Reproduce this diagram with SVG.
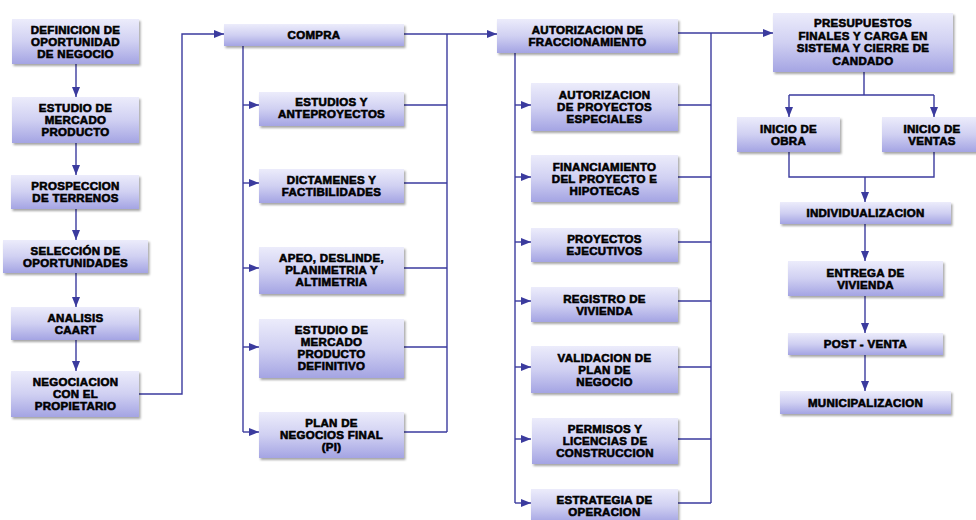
<svg xmlns="http://www.w3.org/2000/svg" width="976" height="520" viewBox="0 0 976 520">
<defs>
<linearGradient id="g" x1="0" y1="0" x2="0" y2="1">
<stop offset="0" stop-color="#ececfb"/>
<stop offset="0.5" stop-color="#d0d0f2"/>
<stop offset="1" stop-color="#a4a4e3"/>
</linearGradient>
<filter id="sh" x="-10%" y="-10%" width="130%" height="140%">
<feDropShadow dx="1.5" dy="2" stdDeviation="1.3" flood-color="#000" flood-opacity="0.35"/>
</filter>
<marker id="ar" markerUnits="userSpaceOnUse" markerWidth="10" markerHeight="10" viewBox="0 0 10 10" refX="10" refY="5" orient="auto">
<path d="M0,1 L10,5 L0,9 Z" fill="#3b3b9e"/>
</marker>
<style>
.b{fill:url(#g);filter:url(#sh)}
.t{font-family:"Liberation Sans",Arial,sans-serif;font-weight:bold;font-size:11.5px;letter-spacing:0.3px;fill:#000;stroke:#000;stroke-width:0.6;text-anchor:middle}
.c{fill:none;stroke:#3b3b9e;stroke-width:1.4}
.a{marker-end:url(#ar)}
</style>
</defs>
<rect width="976" height="520" fill="#fff"/>

<g id="connectors">
<path class="c a" d="M76,64 V97"/>
<path class="c a" d="M76,143 V175"/>
<path class="c a" d="M76,209 V240"/>
<path class="c a" d="M76,273 V307"/>
<path class="c a" d="M76,340 V371"/>
<path class="c a" d="M139,394 H182 V34 H224"/>
<path class="c" d="M243,46 V432"/>
<path class="c a" d="M243,105 H259"/>
<path class="c a" d="M243,183 H259"/>
<path class="c a" d="M243,268 H259"/>
<path class="c a" d="M243,347 H259"/>
<path class="c a" d="M243,432 H259"/>
<path class="c" d="M447,34 V432"/>
<path class="c" d="M404,105 H447 M404,183 H447 M404,268 H447 M404,347 H447 M404,432 H447"/>
<path class="c a" d="M404,34 H497"/>
<path class="c" d="M515,53 V503"/>
<path class="c a" d="M515,105 H531"/>
<path class="c a" d="M515,177 H531"/>
<path class="c a" d="M515,242 H531"/>
<path class="c a" d="M515,301 H531"/>
<path class="c a" d="M515,367 H531"/>
<path class="c a" d="M515,439 H531"/>
<path class="c a" d="M515,503 H531"/>
<path class="c" d="M711,33 V503"/>
<path class="c" d="M678,105 H711 M678,177 H711 M678,242 H711 M678,301 H711 M678,367 H711 M678,439 H711 M678,503 H711"/>
<path class="c a" d="M678,33 H773"/>
<path class="c" d="M864,72 V95 M789,95 H934"/>
<path class="c a" d="M789,95 V117"/>
<path class="c a" d="M934,95 V117"/>
<path class="c" d="M789,152 V177 H934 V152"/>
<path class="c a" d="M865,177 V202"/>
<path class="c a" d="M865,224 V261"/>
<path class="c a" d="M865,296 V333"/>
<path class="c a" d="M865,355 V391"/>
</g>

<g id="n1"><rect class="b" x="12" y="19" width="127" height="45"/><text class="t"><tspan x="75.5" y="33.5">DEFINICION DE</tspan><tspan x="75.5" y="45.5">OPORTUNIDAD</tspan><tspan x="75.5" y="57.5">DE NEGOCIO</tspan></text></g>
<g id="n2"><rect class="b" x="12" y="97" width="127" height="46"/><text class="t"><tspan x="75.5" y="112">ESTUDIO DE</tspan><tspan x="75.5" y="124">MERCADO</tspan><tspan x="75.5" y="136">PRODUCTO</tspan></text></g>
<g id="n3"><rect class="b" x="11" y="175" width="128" height="34"/><text class="t"><tspan x="75.5" y="190">PROSPECCION</tspan><tspan x="75.5" y="202">DE TERRENOS</tspan></text></g>
<g id="n4"><rect class="b" x="3" y="240" width="145" height="33"/><text class="t"><tspan x="75.5" y="254.5">SELECCIÓN DE</tspan><tspan x="75.5" y="266.5">OPORTUNIDADES</tspan></text></g>
<g id="n5"><rect class="b" x="11" y="307" width="128" height="33"/><text class="t"><tspan x="75.5" y="321.5">ANALISIS</tspan><tspan x="75.5" y="333.5">CAART</tspan></text></g>
<g id="n6"><rect class="b" x="11" y="371" width="128" height="46"/><text class="t"><tspan x="75.5" y="386">NEGOCIACION</tspan><tspan x="75.5" y="398">CON EL</tspan><tspan x="75.5" y="410">PROPIETARIO</tspan></text></g>

<g id="compra"><rect class="b" x="224" y="24" width="180" height="22"/><text class="t"><tspan x="314" y="39">COMPRA</tspan></text></g>
<g id="c1"><rect class="b" x="259" y="92" width="145" height="34"/><text class="t"><tspan x="331.5" y="106">ESTUDIOS Y</tspan><tspan x="331.5" y="118">ANTEPROYECTOS</tspan></text></g>
<g id="c2"><rect class="b" x="259" y="169" width="145" height="34"/><text class="t"><tspan x="331.5" y="184">DICTAMENES Y</tspan><tspan x="331.5" y="196">FACTIBILIDADES</tspan></text></g>
<g id="c3"><rect class="b" x="259" y="247" width="145" height="47"/><text class="t"><tspan x="331.5" y="262">APEO, DESLINDE,</tspan><tspan x="331.5" y="274">PLANIMETRIA Y</tspan><tspan x="331.5" y="286">ALTIMETRIA</tspan></text></g>
<g id="c4"><rect class="b" x="259" y="319" width="145" height="59"/><text class="t"><tspan x="331.5" y="334">ESTUDIO DE</tspan><tspan x="331.5" y="346">MERCADO</tspan><tspan x="331.5" y="358">PRODUCTO</tspan><tspan x="331.5" y="370">DEFINITIVO</tspan></text></g>
<g id="c5"><rect class="b" x="259" y="412" width="145" height="46"/><text class="t"><tspan x="331.5" y="427">PLAN DE</tspan><tspan x="331.5" y="439">NEGOCIOS FINAL</tspan><tspan x="331.5" y="451">(PI)</tspan></text></g>

<g id="fracc"><rect class="b" x="497" y="19" width="181" height="34"/><text class="t"><tspan x="587.5" y="34">AUTORIZACION DE</tspan><tspan x="587.5" y="46">FRACCIONAMIENTO</tspan></text></g>
<g id="f1"><rect class="b" x="531" y="83" width="147" height="48"/><text class="t"><tspan x="604.5" y="99">AUTORIZACION</tspan><tspan x="604.5" y="111">DE PROYECTOS</tspan><tspan x="604.5" y="123">ESPECIALES</tspan></text></g>
<g id="f2"><rect class="b" x="531" y="155" width="147" height="47"/><text class="t"><tspan x="604.5" y="170.5">FINANCIAMIENTO</tspan><tspan x="604.5" y="182.5">DEL PROYECTO E</tspan><tspan x="604.5" y="194.5">HIPOTECAS</tspan></text></g>
<g id="f3"><rect class="b" x="531" y="228" width="147" height="34"/><text class="t"><tspan x="604.5" y="243">PROYECTOS</tspan><tspan x="604.5" y="255">EJECUTIVOS</tspan></text></g>
<g id="f4"><rect class="b" x="531" y="287" width="147" height="35"/><text class="t"><tspan x="604.5" y="302.5">REGISTRO DE</tspan><tspan x="604.5" y="314.5">VIVIENDA</tspan></text></g>
<g id="f5"><rect class="b" x="531" y="346" width="147" height="47"/><text class="t"><tspan x="604.5" y="361.5">VALIDACION DE</tspan><tspan x="604.5" y="373.5">PLAN DE</tspan><tspan x="604.5" y="385.5">NEGOCIO</tspan></text></g>
<g id="f6"><rect class="b" x="532" y="418" width="146" height="46"/><text class="t"><tspan x="605" y="433">PERMISOS Y</tspan><tspan x="605" y="445">LICENCIAS DE</tspan><tspan x="605" y="457">CONSTRUCCION</tspan></text></g>
<g id="f7"><rect class="b" x="531" y="489" width="147" height="34"/><text class="t"><tspan x="604.5" y="504">ESTRATEGIA DE</tspan><tspan x="604.5" y="516">OPERACION</tspan></text></g>

<g id="pres"><rect class="b" x="773" y="13" width="180" height="59"/><text class="t"><tspan x="863" y="27">PRESUPUESTOS</tspan><tspan x="863" y="39.5">FINALES Y CARGA EN</tspan><tspan x="863" y="52">SISTEMA Y CIERRE DE</tspan><tspan x="863" y="64.5">CANDADO</tspan></text></g>
<g id="obra"><rect class="b" x="737" y="117" width="103" height="35"/><text class="t"><tspan x="788.5" y="132.5">INICIO DE</tspan><tspan x="788.5" y="144.5">OBRA</tspan></text></g>
<g id="ventas"><rect class="b" x="882" y="117" width="96" height="35"/><text class="t"><tspan x="932" y="132.5">INICIO DE</tspan><tspan x="932" y="144.5">VENTAS</tspan></text></g>
<g id="indiv"><rect class="b" x="780" y="202" width="171" height="22"/><text class="t"><tspan x="865.5" y="217">INDIVIDUALIZACION</tspan></text></g>
<g id="entrega"><rect class="b" x="788" y="261" width="155" height="35"/><text class="t"><tspan x="865.5" y="276.5">ENTREGA DE</tspan><tspan x="865.5" y="288.5">VIVIENDA</tspan></text></g>
<g id="post"><rect class="b" x="788" y="333" width="155" height="22"/><text class="t"><tspan x="865.5" y="348">POST - VENTA</tspan></text></g>
<g id="muni"><rect class="b" x="780" y="391" width="171" height="23"/><text class="t"><tspan x="865.5" y="406.5">MUNICIPALIZACION</tspan></text></g>
</svg>
